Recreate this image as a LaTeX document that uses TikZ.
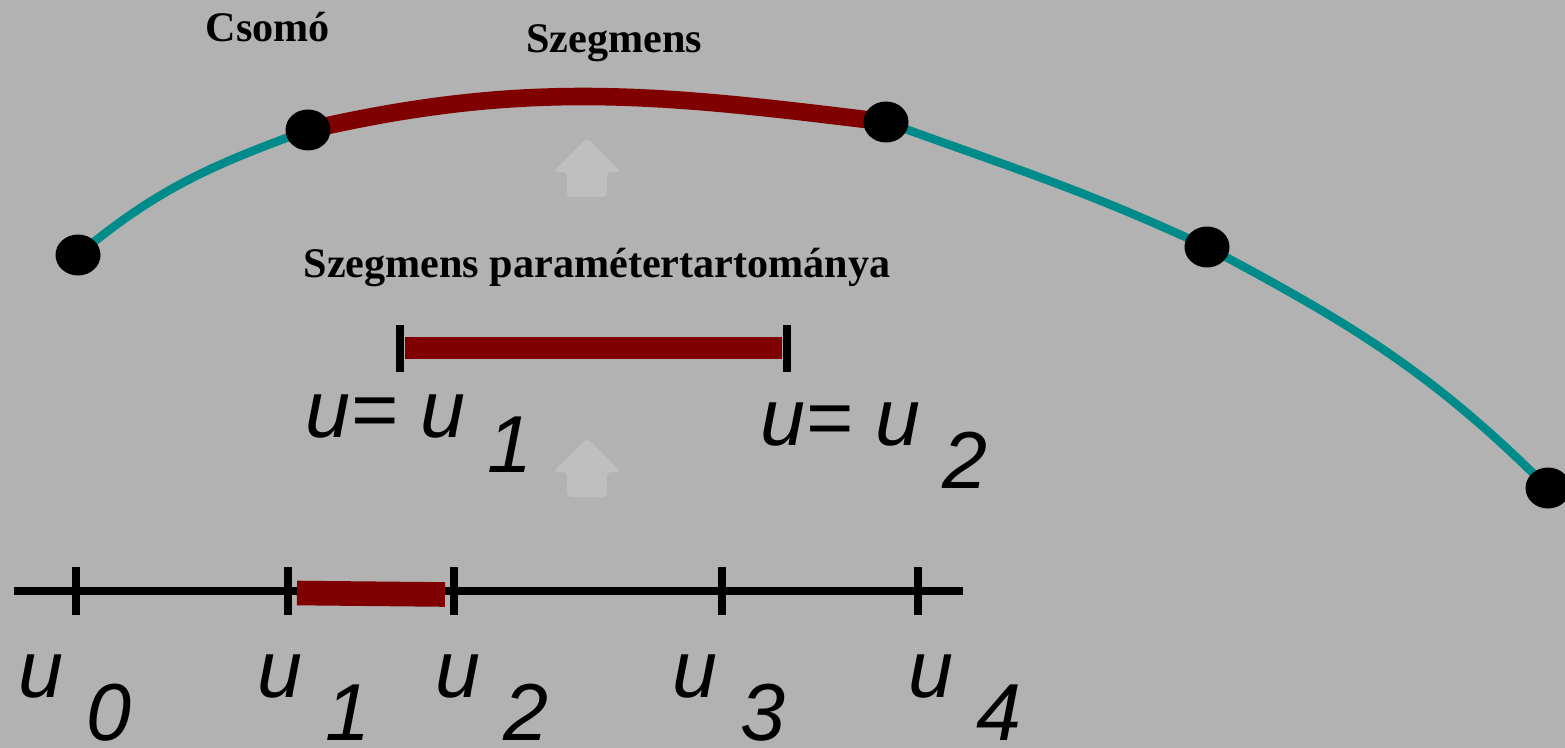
\documentclass[tikz,border=0pt]{standalone}
\usepackage{fontspec}
\setmainfont{Liberation Serif}
\setsansfont{Liberation Sans}
\usetikzlibrary{positioning,calc,shapes.geometric}
\definecolor{bggray}{gray}{0.70}
\definecolor{arrowgray}{gray}{0.75}
\definecolor{curveteal}{RGB}{0,139,139}
\definecolor{segred}{RGB}{128,0,0}
\newcommand{\liftarrow}[1]{\fill[arrowgray, rounded corners=0.04cm] #1 -- ++(-0.20,0) -- ++(0,0.25) -- ++(-0.14,0) -- ++(0.34,0.34) -- ++(0.34,-0.34) -- ++(-0.14,0) -- ++(0,-0.25) -- cycle;}

\begin{document}
\begin{tikzpicture}[
  knot/.style={ellipse, fill=black, inner sep=0pt, minimum width=4.5mm, minimum height=4.1mm},
  title/.style={font=\bfseries\fontsize{12}{14}\selectfont, inner sep=0pt, anchor=base},
  curve/.style={line width=2.4pt, color=curveteal},
  seg/.style={line width=5pt, color=segred},
  tick/.style={line width=2.4pt},
  param/.style={font=\sffamily\itshape\fontsize{23}{27}\selectfont, inner sep=0pt, anchor=base west},
]
  \path[use as bounding box, fill=bggray] (0,0) rectangle (15.65,-7.48);

  % curve with knots
  \coordinate (p0) at (0.78,-2.55);
  \coordinate (p1) at (3.08,-1.30);
  \coordinate (p2) at (8.86,-1.22);
  \coordinate (p3) at (12.07,-2.47);
  \coordinate (p4) at (15.48,-4.88);

  \draw[curve] (p0) to[out=40,in=200] (p1);
  \draw[seg] (p1) to[out=13,in=173] (p2);
  \draw[curve] (p2) to[out=-20,in=155] (p3);
  \draw[curve] (p3) to[out=-28,in=135] (p4);

  \node[knot] (k0) at (p0) {};
  \node[knot] (k1) at (p1) {};
  \node[knot] (k2) at (p2) {};
  \node[knot] (k3) at (p3) {};
  \node[knot] (k4) at (p4) {};

  \node[title] (knotlbl) at (2.68,-0.42) {Csomó};
  \node[title] (seglbl) at (6.14,-0.53) {Szegmens};

  \liftarrow{(5.87,-1.97)}

  % parameter range of the segment
  \node[title] (rangelbl) at (5.97,-2.77) {Szegmens paramétertartománya};

  \coordinate (ra) at (4.00,-3.48);
  \coordinate (rb) at (7.87,-3.48);
  \draw[seg, line width=6.5pt] ($(ra)+(0.05,0)$) -- ($(rb)+(-0.05,0)$);
  \draw[tick] ($(ra)+(0,0.235)$) -- ($(ra)+(0,-0.235)$);
  \draw[tick] ($(rb)+(0,0.235)$) -- ($(rb)+(0,-0.235)$);

  \node[param] (ru1) at (3.05,-4.37) {u= u \raisebox{-0.35cm}{1}};
  \node[param] (ru2) at (7.60,-4.45) {u= u \raisebox{-0.43cm}{2}};

  \liftarrow{(5.87,-4.97)}

  % knot vector
  \coordinate (axl) at (0.14,-5.91);
  \coordinate (axr) at (9.63,-5.91);
  \draw[tick] (axl) -- (axr);
  \foreach \x in {0.76,2.88,4.54,7.22,9.18}
    \draw[tick] (\x,-5.67) -- (\x,-6.15);
  \draw[seg, line width=7pt] (2.97,-5.93) -- (4.45,-5.945);

  \foreach \x/\n in {0.18/0,2.57/1,4.35/2,6.72/3,9.08/4}
    \node[param] (u\n) at (\x,-6.97) {u \raisebox{-0.43cm}{\n}};
\end{tikzpicture}
\end{document}
